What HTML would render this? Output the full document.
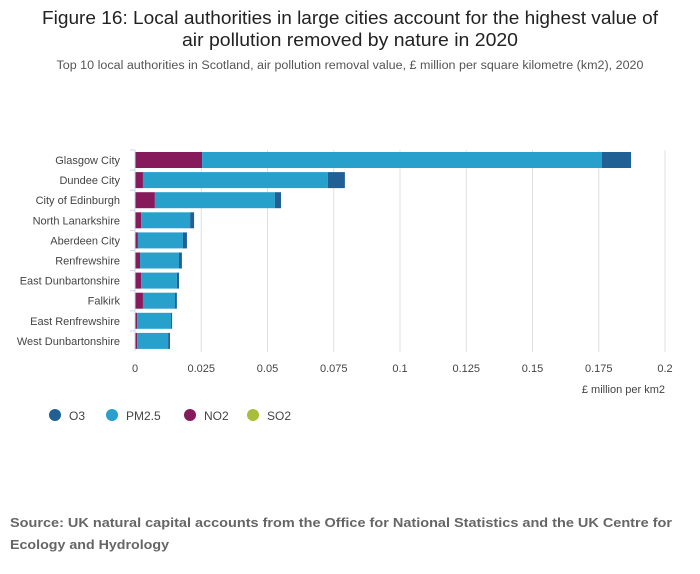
<!DOCTYPE html>
<html><head><meta charset="utf-8"><style>
html,body{margin:0;padding:0;background:#fff;}
svg{display:block;font-family:"Liberation Sans",sans-serif;}
</style></head><body>
<svg id="chart" width="700" height="574" viewBox="0 0 700 574">
<text x="350" y="24" text-anchor="middle" font-size="18" fill="#222" textLength="616" lengthAdjust="spacingAndGlyphs">Figure 16: Local authorities in large cities account for the highest value of</text>
<text x="350" y="46" text-anchor="middle" font-size="18" fill="#222" textLength="336" lengthAdjust="spacingAndGlyphs">air pollution removed by nature in 2020</text>
<text x="350" y="69" text-anchor="middle" font-size="11.5" fill="#555" textLength="587" lengthAdjust="spacingAndGlyphs">Top 10 local authorities in Scotland, air pollution removal value, £ million per square kilometre (km2), 2020</text>
<g id="grid"></g>
<g id="bars"></g>
<g id="axes"></g>
<text x="665" y="393" text-anchor="end" font-size="11" fill="#444">£ million per km2</text>
<g id="legend"></g>
<text x="10" y="527" font-size="13" font-weight="bold" fill="#666" textLength="662" lengthAdjust="spacingAndGlyphs">Source: UK natural capital accounts from the Office for National Statistics and the UK Centre for</text>
<text x="10" y="549" font-size="13" font-weight="bold" fill="#666" textLength="159" lengthAdjust="spacingAndGlyphs">Ecology and Hydrology</text>
</svg>
<script>
const categories=["Glasgow City","Dundee City","City of Edinburgh","North Lanarkshire","Aberdeen City","Renfrewshire","East Dunbartonshire","Falkirk","East Renfrewshire","West Dunbartonshire"];
const so2=[0,0,0,0,0,0,0,0,0,0];
const no2=[0.0253,0.003,0.0075,0.0023,0.0011,0.0019,0.0023,0.003,0.0008,0.0008];
const pm25=[0.1509,0.0698,0.0453,0.0185,0.017,0.0147,0.0135,0.0121,0.0128,0.0117];
const o3=[0.011,0.0064,0.0023,0.0015,0.0015,0.0011,0.0008,0.0007,0.0004,0.0007];
const ticks=[0,0.025,0.05,0.075,0.1,0.125,0.15,0.175,0.2];
const tickLabels=["0","0.025","0.05","0.075","0.1","0.125","0.15","0.175","0.2"];
const seriesNames=["O3","PM2.5","NO2","SO2"];
const NS="http://www.w3.org/2000/svg";
const x=v=>135+v*2650;
const rowY=i=>150+i*20.1;
function mk(tag,attrs,parent){const e=document.createElementNS(NS,tag);for(const k in attrs)e.setAttribute(k,attrs[k]);parent.appendChild(e);return e;}
const grid=document.getElementById('grid'),bars=document.getElementById('bars'),axes=document.getElementById('axes'),legend=document.getElementById('legend');
ticks.forEach((t,i)=>{
  if(i>0){const l=mk('line',{x1:x(t),x2:x(t),y1:150,y2:352,stroke:'#e0e0e0','stroke-width':1},grid);
  
  }
  const tx=mk('text',{x:x(t),y:372,'text-anchor':'middle','font-size':11,fill:'#444'},axes);
  tx.textContent=tickLabels[i];
  
  
});
const colors={so2:'#a8bd3a',no2:'#871a5b',pm25:'#27a0cc',o3:'#206095'};
categories.forEach((c,i)=>{
  const y=rowY(i)+2;let acc=0;
  [['so2',so2],['no2',no2],['pm25',pm25],['o3',o3]].forEach(([k,arr])=>{
    const v=arr[i];
    if(v>0){const r=mk('rect',{x:x(acc),y:y,width:x(acc+v)-x(acc),height:16,fill:colors[k]},bars);
    
    }
    acc+=v;
  });
  const lb=mk('text',{x:120,y:rowY(i)+14,'text-anchor':'end','font-size':11,fill:'#444'},axes);
  lb.textContent=c;
  
  
  const tk=mk('line',{x1:130,x2:135,y1:rowY(i),y2:rowY(i),stroke:'#ccd6eb'},axes);
  
  
});
const ax=mk('line',{x1:135,x2:135,y1:150,y2:351,stroke:'#ccd6eb'},axes);


const legX=[55,112,190,253],legC=[colors.o3,colors.pm25,colors.no2,colors.so2];
seriesNames.forEach((n,i)=>{
  const g=mk('g',{},legend);
  
  
  mk('circle',{cx:legX[i],cy:415,r:6,fill:legC[i]},g);
  const t=mk('text',{x:legX[i]+14,y:420,'font-size':12,fill:'#444'},g);
  t.textContent=n;
});
</script>
</body></html>
